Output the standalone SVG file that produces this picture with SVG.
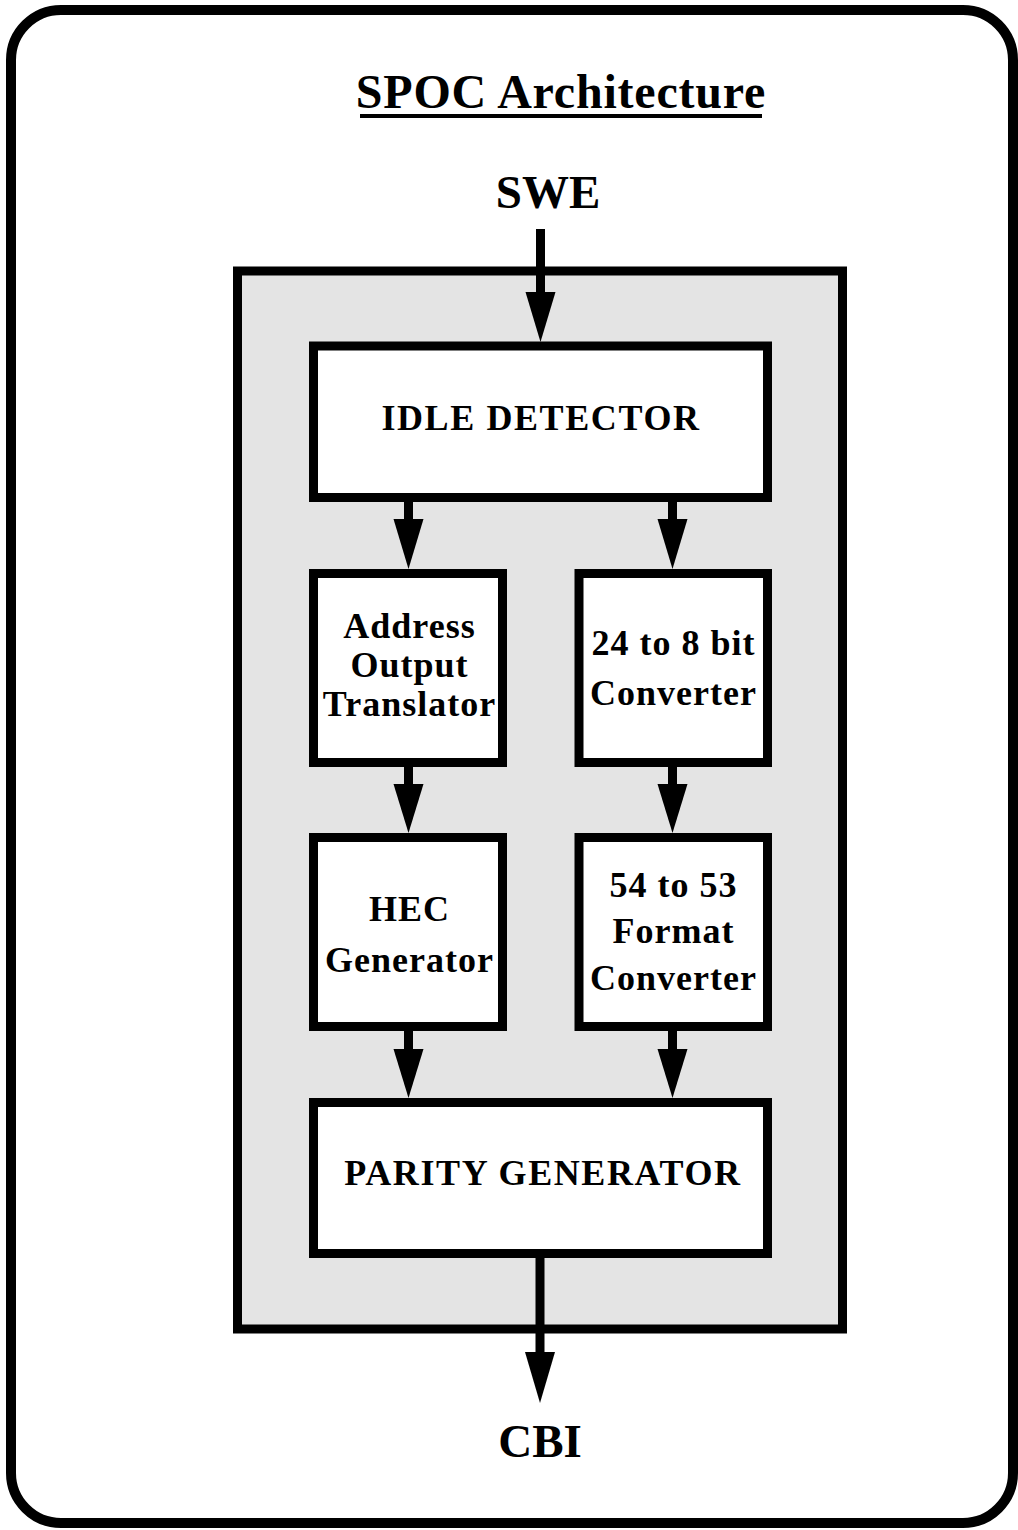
<svg xmlns="http://www.w3.org/2000/svg" width="1018" height="1530" viewBox="0 0 1018 1530">
<style>
.box{fill:#ffffff;stroke:#000;stroke-width:9}
.panel{fill:#e4e4e4;stroke:#000;stroke-width:9}
.shaft{stroke:#000;stroke-width:9;fill:none}
.head{fill:#000}
text{font-family:"Liberation Serif","Times New Roman",serif;font-weight:bold;fill:#000;text-anchor:middle}
.lbl{font-size:36px;letter-spacing:1px}
.cap{font-size:36px;letter-spacing:1.6px}
.big{font-size:47px}
.ttl{font-size:48px;letter-spacing:0.8px}
</style>
<rect x="11" y="10" width="1002" height="1513" rx="50" ry="50" fill="#fff" stroke="#000" stroke-width="10"/>
<g id="title">
<text class="ttl" x="561" y="108">SPOC Architecture</text>
<rect x="360" y="114" width="402" height="4" fill="#000"/>
</g>
<g id="swe"><text class="big" x="548" y="208">SWE</text></g>
<g id="cbi"><text class="big" x="540" y="1457">CBI</text></g>
<g id="spoc"><rect class="panel" x="237.5" y="271" width="605" height="1058"/></g>
<g id="idle-detector">
<rect class="box" x="313.5" y="346" width="454" height="151.5"/>
<text class="cap" x="541" y="430">IDLE DETECTOR</text>
</g>
<g id="address-output-translator">
<rect class="box" x="313.5" y="573.5" width="189" height="189"/>
<text class="lbl" x="409.5" y="638">Address</text>
<text class="lbl" x="409.5" y="677">Output</text>
<text class="lbl" x="409.5" y="716">Translator</text>
</g>
<g id="converter-24-8">
<rect class="box" x="579" y="573.5" width="188.5" height="189"/>
<text class="lbl" x="673.5" y="655">24 to 8 bit</text>
<text class="lbl" x="673.5" y="705">Converter</text>
</g>
<g id="hec-generator">
<rect class="box" x="313.5" y="837.5" width="189" height="189"/>
<text class="lbl" x="409.5" y="921">HEC</text>
<text class="lbl" x="409.5" y="972">Generator</text>
</g>
<g id="format-converter">
<rect class="box" x="579" y="837.5" width="188.5" height="189"/>
<text class="lbl" x="673.5" y="897">54 to 53</text>
<text class="lbl" x="673.5" y="943">Format</text>
<text class="lbl" x="673.5" y="990">Converter</text>
</g>
<g id="parity-generator">
<rect class="box" x="313.5" y="1102.5" width="454" height="151"/>
<text class="cap" x="543" y="1185">PARITY GENERATOR</text>
</g>
<g id="connectors">
<line class="shaft" x1="540.5" y1="229" x2="540.5" y2="293"/>
<polygon class="head" points="525.5,292 555.5,292 540.5,342"/>
<line class="shaft" x1="408.5" y1="497" x2="408.5" y2="520"/>
<polygon class="head" points="393.5,519 423.5,519 408.5,569"/>
<line class="shaft" x1="672.5" y1="497" x2="672.5" y2="520"/>
<polygon class="head" points="657.5,519 687.5,519 672.5,569"/>
<line class="shaft" x1="408.5" y1="762" x2="408.5" y2="785"/>
<polygon class="head" points="393.5,784 423.5,784 408.5,833"/>
<line class="shaft" x1="672.5" y1="762" x2="672.5" y2="785"/>
<polygon class="head" points="657.5,784 687.5,784 672.5,833"/>
<line class="shaft" x1="408.5" y1="1026" x2="408.5" y2="1050"/>
<polygon class="head" points="393.5,1049 423.5,1049 408.5,1098"/>
<line class="shaft" x1="672.5" y1="1026" x2="672.5" y2="1050"/>
<polygon class="head" points="657.5,1049 687.5,1049 672.5,1098"/>
<line class="shaft" x1="540" y1="1253" x2="540" y2="1353"/>
<polygon class="head" points="525,1352 555,1352 540,1403"/>
</g>
</svg>
